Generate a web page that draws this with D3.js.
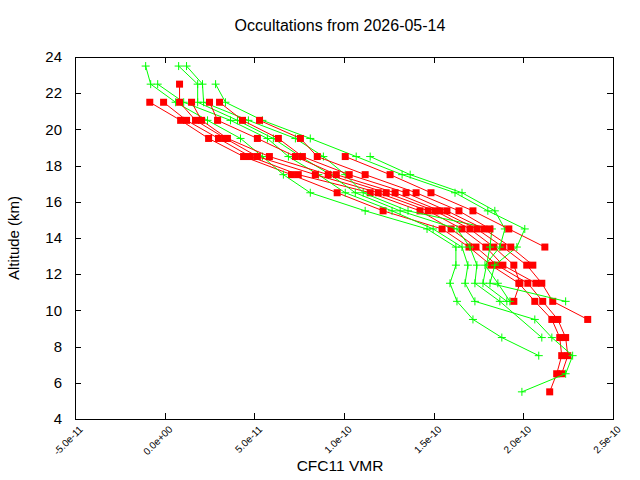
<!DOCTYPE html>
<html>
<meta charset="utf-8">
<style>
    body { margin: 0; background: #fff; }
    text { font-family: "Liberation Sans", Arial, sans-serif; }
    .prof { fill: none; stroke-width: 1px; }
</style>
<body>
<script src="https://d3js.org/d3.v7.min.js"></script>
<script>
    // altitude levels (km) shared by every profile
    var altitudes = [23.5, 22.5, 21.5, 20.5, 19.5, 18.5, 17.5, 16.5, 15.5, 14.5,
                     13.5, 12.5, 11.5, 10.5, 9.5, 8.5, 7.5, 6.5, 5.5];

    // CFC11 VMR in units of 1e-12, null = no retrieval at that level
    // red profiles (squares)
    var red0 = [null, null, -8.3, 8.9, 24.5, 44.0, 70.7, 96.2, 121.8, 154.7, 169.7, 181.9, 197.5, 206.4, 215.9, 220.3, 221.4, 218.6, 214.7];
    var red1 = [null, null, -0.6, 12.2, 30.0, 47.8, 74.5, 114.6, 142.4, 159.7, 173.6, 185.3, 202.5, 210.8, 219.2, 223.6, 224.8, 221.4, null];
    var red2 = [null, 8.3, 8.3, 17.2, 33.9, 51.7, 84.0, 119.1, 146.9, 165.8, 179.1, 188.6, 207.0, null, null, null, null, null, null];
    var red3 = [null, null, 15.0, 20.6, 35.0, 58.4, 91.2, 123.5, 150.8, 170.2, 183.6, 194.7, 198.1, 194.7, null, null, null, null, null];
    var red4 = [null, null, 25.0, 29.5, 51.7, 72.9, 95.7, 128.5, 153.5, 174.1, 188.6, 201.9, 210.3, 216.4, 235.9, null, null, null, null];
    var red5 = [null, null, 30.6, 43.4, 63.4, 76.8, 102.9, 134.6, 157.4, 178.0, 193.0, 205.3, null, null, null, null, null, null, null];
    var red6 = [null, null, null, 52.9, 75.7, 85.1, 111.8, 140.2, 164.1, 181.4, null, null, null, null, null, null, null, null, null];
    var red7 = [null, null, null, null, null, 100.7, 125.7, 148.5, 171.9, 191.9, 212.0, null, null, null, null, null, null, null, null];

    // green profiles (plus signs)
    var green0 = [-10.6, -7.8, 6.1, 23.9, 42.3, 54.5, 66.2, 81.2, 111.8, 146.3, 162.4, 162.4, 159.1, 163.0, 171.9, 188.0, 208.6, null, null];
    var green1 = [null, -3.9, 10.6, 36.7, 57.3, 69.0, 85.7, 100.7, 126.8, 149.7, 165.8, 169.1, 167.5, 173.0, 206.4, 215.9, 227.5, 223.6, 199.2];
    var green2 = [7.8, 18.4, 18.4, 40.6, 60.6, 75.7, 92.4, 106.3, 131.3, 163.0, 170.2, 174.1, 173.0, 186.9, null, 210.3, null, null, null];
    var green3 = [12.2, 21.1, 21.7, 46.7, 72.9, 88.5, 100.7, 110.7, 135.7, 182.5, 181.4, null, 177.5, 190.8, null, null, null, null, null];
    var green4 = [null, 28.4, 33.9, 54.5, 81.2, 106.8, 132.4, 161.9, 180.2, 200.8, 196.4, 184.1, 181.4, 223.6, null, null, null, null, null];
    var green5 = [null, null, null, null, null, 114.6, 136.9, 165.8, 184.1, 189.7, 186.9, 178.6, 185.8, 192.5, null, null, null, null, null];

    var redProfiles = [red0, red1, red2, red3, red4, red5, red6, red7];
    var greenProfiles = [green0, green1, green2, green3, green4, green5];

    var xTicks = [-5e-11, 0, 5e-11, 1e-10, 1.5e-10, 2e-10, 2.5e-10];
    var xTickLabels = ["-5.0e-11", "0.0e+00", "5.0e-11", "1.0e-10", "1.5e-10", "2.0e-10", "2.5e-10"];
    var yTicks = [4, 6, 8, 10, 12, 14, 16, 18, 20, 22, 24];

    var W = 640, H = 480;
    var margin = { top: 57, right: 27, bottom: 61, left: 75 },
        width = W - margin.left - margin.right,
        height = H - margin.top - margin.bottom;

    var svg = d3.select("body").append("svg")
        .attr("width", W)
        .attr("height", H);

    var g = svg.append("g")
        .attr("transform", "translate(" + margin.left + "," + margin.top + ")");

    var x = d3.scaleLinear().domain([-5e-11, 2.5e-10]).range([0, width]);
    var y = d3.scaleLinear().domain([4, 24]).range([height, 0]);

    // turn an aligned array into points, dropping missing levels
    function toPoints(vals) {
        var pts = [];
        vals.forEach(function (v, i) {
            if (v != null) pts.push({ alt: altitudes[i], v: v * 1e-12 });
        });
        return pts;
    }

    var line = d3.line()
        .x(function (d) { return x(d.v); })
        .y(function (d) { return y(d.alt); });

    function drawRed(vals) {
        var pts = toPoints(vals);
        g.append("path").datum(pts).attr("class", "prof")
            .attr("stroke", "#ff0000").attr("d", line);
        g.selectAll(null).data(pts).enter().append("rect")
            .attr("x", function (d) { return x(d.v) - 3.5; })
            .attr("y", function (d) { return y(d.alt) - 3.5; })
            .attr("width", 7).attr("height", 7)
            .attr("fill", "#ff0000");
    }

    function drawGreen(vals) {
        var pts = toPoints(vals);
        g.append("path").datum(pts).attr("class", "prof")
            .attr("stroke", "#00ff00").attr("d", line);
        g.selectAll(null).data(pts).enter().append("path")
            .attr("d", function (d) {
                var cx = x(d.v), cy = y(d.alt);
                return "M" + (cx - 4) + "," + cy + "H" + (cx + 4) +
                       "M" + cx + "," + (cy - 4) + "V" + (cy + 4);
            })
            .attr("stroke", "#00ff00").attr("stroke-width", 1).attr("fill", "none");
    }

    // interleave the two groups like the original plot order
    for (var i = 0; i < Math.max(redProfiles.length, greenProfiles.length); i++) {
        if (redProfiles[i]) drawRed(redProfiles[i]);
        if (greenProfiles[i]) drawGreen(greenProfiles[i]);
    }

    // border
    g.append("rect")
        .attr("x", 0).attr("y", 0)
        .attr("width", width).attr("height", height)
        .attr("fill", "none").attr("stroke", "#000").attr("stroke-width", 1)
        .attr("shape-rendering", "crispEdges");

    // inward ticks, mirrored on top and right
    var tickLen = 6;
    xTicks.forEach(function (t) {
        var px = Math.round(x(t)) + 0.5;
        g.append("line").attr("x1", px).attr("x2", px)
            .attr("y1", height).attr("y2", height - tickLen).attr("stroke", "#000");
        g.append("line").attr("x1", px).attr("x2", px)
            .attr("y1", 0).attr("y2", tickLen).attr("stroke", "#000");
    });
    yTicks.forEach(function (t) {
        var py = Math.round(y(t)) + 0.5;
        g.append("line").attr("x1", 0).attr("x2", tickLen)
            .attr("y1", py).attr("y2", py).attr("stroke", "#000");
        g.append("line").attr("x1", width).attr("x2", width - tickLen)
            .attr("y1", py).attr("y2", py).attr("stroke", "#000");
    });

    // tick labels
    g.selectAll(".ylab").data(yTicks).enter().append("text")
        .attr("x", -13)
        .attr("y", function (d) { return y(d); })
        .attr("dy", "0.35em")
        .attr("text-anchor", "end")
        .style("font-size", "15px")
        .text(function (d) { return d; });

    g.selectAll(".xlab").data(xTicks).enter().append("text")
        .attr("transform", function (d) {
            return "translate(" + (x(d) + 8.5) + "," + (height + 11) + ") rotate(-45)";
        })
        .attr("text-anchor", "end")
        .style("font-size", "10px")
        .text(function (d, i) { return xTickLabels[i]; });

    // axis titles
    svg.append("text")
        .attr("x", margin.left + width / 2 - 4)
        .attr("y", 471)
        .attr("text-anchor", "middle")
        .style("font-size", "15.5px")
        .text("CFC11 VMR");

    svg.append("text")
        .attr("transform", "translate(19," + (margin.top + height / 2) + ") rotate(-90)")
        .attr("text-anchor", "middle")
        .style("font-size", "15px")
        .text("Altitude (km)");

    svg.append("text")
        .attr("x", margin.left + width / 2 - 4)
        .attr("y", 31)
        .attr("text-anchor", "middle")
        .style("font-size", "16px")
        .text("Occultations from 2026-05-14");
</script>
</body>
</html>
